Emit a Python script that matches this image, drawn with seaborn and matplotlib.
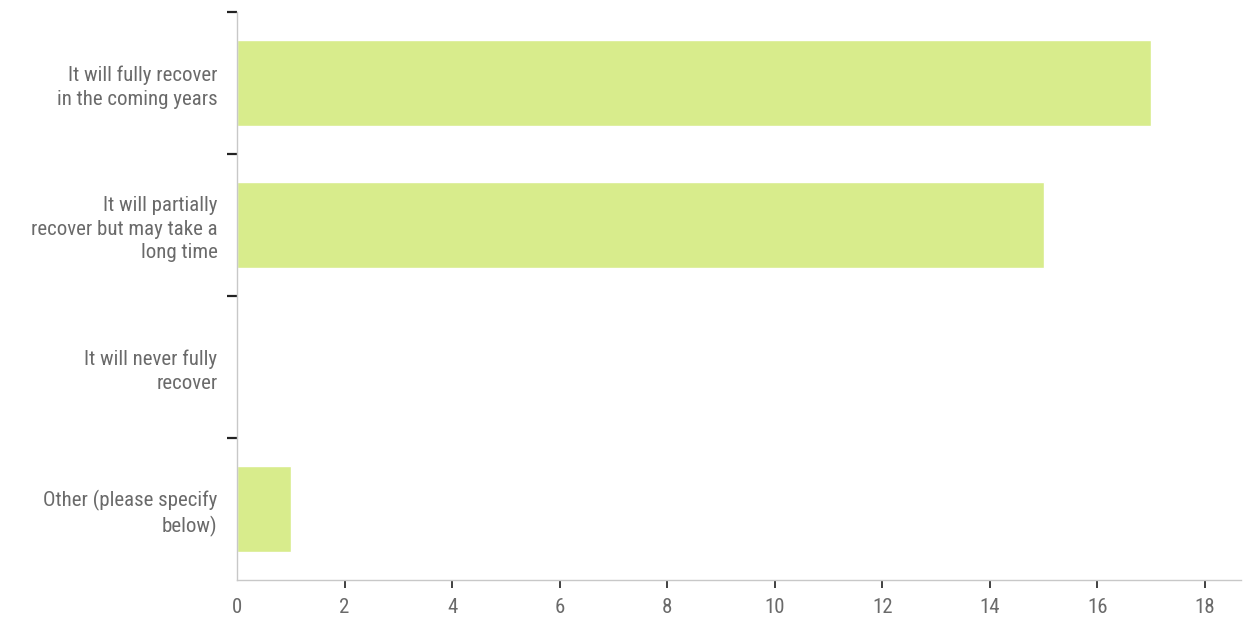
import matplotlib
matplotlib.use("Agg")
import matplotlib.pyplot as plt
import seaborn as sns
import pandas as pd
from matplotlib.ticker import FixedLocator, NullFormatter, FixedFormatter

# Survey answers and response counts
answers = [
    "It will fully recover\nin the coming years",
    "It will partially\nrecover but may take a\nlong time",
    "It will never fully\nrecover",
    "Other (please specify\nbelow)",
]
counts = [17, 15, 0, 1]

bar_color = "#d8ec8c"
text_color = "#6a6a6a"

sns.set_style("white")
plt.rcParams['font.family'] = ['DejaVu Sans Condensed', 'Roboto Condensed', 'Liberation Sans Narrow',
                               'Liberation Sans', 'DejaVu Sans']

df = pd.DataFrame({"answer": answers, "count": counts})

fig = plt.figure(figsize=(12.46, 6.23), dpi=100)
ax = fig.add_axes([0.1902, 0.069, 0.8058, 0.9117])

sns.barplot(data=df, x="count", y="answer", orient="h", color=bar_color,
            width=0.61, saturation=1, ax=ax)

ax.set_xlim(0, 18.67)
ax.set_ylim(3.5, -0.5)
ax.set_xticks(range(0, 19, 2))
ax.set_xlabel("")
ax.set_ylabel("")

# y ticks at the category boundaries (not the bottom one), labels in the middle
n = len(answers)
ax.yaxis.set_major_locator(FixedLocator([i - 0.5 for i in range(n)]))
ax.yaxis.set_major_formatter(NullFormatter())
ax.yaxis.set_minor_locator(FixedLocator(list(range(n))))
ax.yaxis.set_minor_formatter(FixedFormatter(answers))
ax.tick_params(axis="y", which="major", length=7, width=1.6, color="#222222", left=True)
ax.tick_params(axis="y", which="minor", length=0, pad=14, labelsize=15, labelcolor=text_color)
for lab in ax.yaxis.get_minorticklabels():
    lab.set_horizontalalignment("right")
    lab.set_linespacing(1.3)

ax.tick_params(axis="x", which="major", length=6, width=1.3, color="#333333",
               bottom=True, labelsize=15, labelcolor=text_color, pad=7)
# no dark tick mark at zero, only the label
ax.xaxis.get_major_ticks()[0].tick1line.set_visible(False)

for side in ["top", "right"]:
    ax.spines[side].set_visible(False)
ax.spines["left"].set_color("#c8c8c8")
ax.spines["bottom"].set_color("#c8c8c8")
ax.spines["left"].set_linewidth(1)
ax.spines["bottom"].set_linewidth(1)

fig.savefig("out.png", dpi=100)
